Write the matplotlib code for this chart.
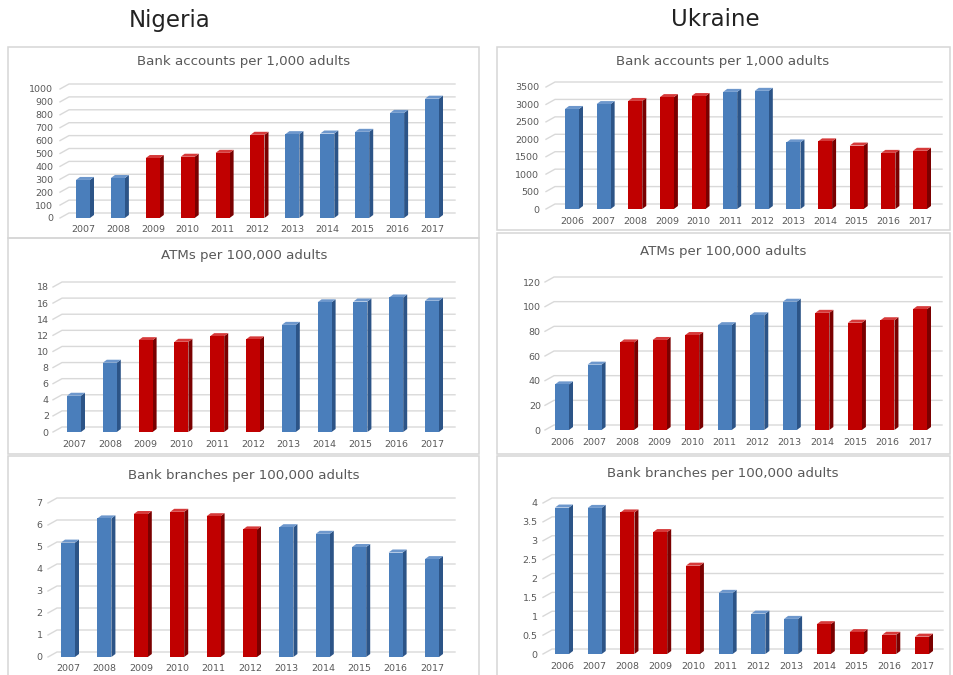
import matplotlib
matplotlib.use("Agg")
import matplotlib.pyplot as plt
from matplotlib.patches import Polygon, Rectangle
from matplotlib.lines import Line2D

plt.rcParams['font.family'] = ['DejaVu Sans']

W, H = 954, 675

# ---- data -----------------------------------------------------------------
years_ng = list(range(2007, 2018))
years_ua = list(range(2006, 2018))

ng_accounts = [295, 310, 465, 475, 505, 645, 650, 655, 668, 815, 925]
ng_atms = [4.5, 8.6, 11.4, 11.2, 11.9, 11.5, 13.3, 16.1, 16.2, 16.7, 16.3]
ng_branches = [5.2, 6.3, 6.5, 6.6, 6.4, 5.8, 5.9, 5.6, 5.0, 4.75, 4.45]

ua_accounts = [2870, 3010, 3100, 3210, 3240, 3360, 3390, 1910, 1940, 1820, 1610, 1670]
ua_atms = [37, 53, 71, 73, 77, 85, 93, 104, 95, 87, 89, 98]
ua_branches = [3.88, 3.87, 3.75, 3.23, 2.34, 1.62, 1.07, 0.93, 0.79, 0.58, 0.51, 0.46]

ng_red_years = [2009, 2010, 2011, 2012]
ua_red_years = [2008, 2009, 2010, 2014, 2015, 2016, 2017]

ng_accounts_ticks = list(range(0, 1001, 100))
ua_accounts_ticks = list(range(0, 3501, 500))
ng_atms_ticks = list(range(0, 19, 2))
ua_atms_ticks = list(range(0, 121, 20))
ng_branches_ticks = list(range(0, 8))
ua_branches_ticks = [0, 0.5, 1, 1.5, 2, 2.5, 3, 3.5, 4]

titles = ["Bank accounts per 1,000 adults",
          "ATMs per 100,000 adults",
          "Bank branches per 100,000 adults"]

# ---- styling ----------------------------------------------------------------
BLUE = dict(front="#4a7ebb", side="#2c5487", top="#6d97cc")
RED = dict(front="#c00000", side="#7a0000", top="#d63a3a")
GRID = "#d9d9d9"
TXT = "#595959"
FRAME = "#d6d6d6"

fig = plt.figure(figsize=(W / 100, H / 100), dpi=100)
fig.patch.set_facecolor("white")


def px_axes(l, r, y0, yt):
    return fig.add_axes([l / W, 1 - y0 / H, (r - l) / W, (y0 - yt) / H])


def frame(x0, x1, y0, y1):
    fig.patches.append(Rectangle((x0 / W, 1 - y1 / H), (x1 - x0) / W, (y1 - y0) / H,
                                 transform=fig.transFigure, fill=False,
                                 edgecolor=FRAME, linewidth=1.1))


def panel(title, title_xy, geom, years, values, red_years, ymax, yticks, ytick_fmt,
          ypad, xpad):
    l, r, c0, c1, y0, yt = geom
    n = len(values)
    s = (c1 - c0) / (n - 1)
    ax = px_axes(l, r, y0, yt)
    ax.set_xlim((l - c0) / s, (n - 1) + (r - c1) / s)
    ax.set_ylim(0, ymax)
    for sp in ax.spines.values():
        sp.set_visible(False)
    ax.set_facecolor("none")

    ux = 1.0 / s                  # data units per pixel (x)
    uy = ymax / (y0 - yt)         # data units per pixel (y)

    # back-wall gridlines with a short receding segment on the left
    gdx, gdy = 9 * ux, 5 * uy
    x_left, x_right = ax.get_xlim()
    for v in yticks:
        ax.add_line(Line2D([x_left, x_left + gdx, x_right], [v, v + gdy, v + gdy],
                           color=GRID, lw=1.0, zorder=1, clip_on=False))

    # 3-D columns: front face, side face and top face
    half = 7 * ux
    ddx, ddy = 4 * ux, 3 * uy
    for i, (yr, v) in enumerate(zip(years, values)):
        c = RED if yr in red_years else BLUE
        xl, xr = i - half, i + half
        ax.add_patch(Polygon([(xr, 0), (xr + ddx, ddy), (xr + ddx, v + ddy), (xr, v)],
                             closed=True, facecolor=c["side"], edgecolor="none", zorder=3))
        ax.add_patch(Polygon([(xl, v), (xr, v), (xr + ddx, v + ddy), (xl + ddx, v + ddy)],
                             closed=True, facecolor=c["top"], edgecolor="none", zorder=3))
        ax.bar(i, v, width=2 * half, bottom=0, color=c["front"], edgecolor="none", zorder=4)

    ax.set_yticks(yticks)
    ax.set_yticklabels([ytick_fmt(t) for t in yticks])
    ax.set_xticks(range(n))
    ax.set_xticklabels([str(y) for y in years])
    ax.tick_params(axis="both", length=0, labelsize=6.8, colors=TXT)
    ax.tick_params(axis="y", pad=ypad)
    ax.tick_params(axis="x", pad=xpad)
    fig.text(title_xy[0] / W, 1 - title_xy[1] / H, title, ha="center", va="center",
             fontsize=9.6, color=TXT)
    return ax


def fmt_int(t):
    return f"{int(t)}"


def fmt_half(t):
    return f"{t:g}"


# panel frames
frame(8, 479, 47, 238)
frame(8, 479, 238, 454)
frame(8, 479, 456, 676)
frame(497, 950, 47, 230)
frame(497, 950, 233, 454)
frame(497, 950, 456, 676)

# country headings
fig.text(170 / W, 1 - 20 / H, "Nigeria", ha="center", va="center", fontsize=16.5, color="#222222")
fig.text(715 / W, 1 - 19 / H, "Ukraine", ha="center", va="center", fontsize=16.5, color="#222222")

# Nigeria
panel(titles[0], (244, 62), (60, 455, 83, 432, 218, 89), years_ng, ng_accounts,
      ng_red_years, 1000, ng_accounts_ticks, fmt_int, 5, 5)
panel(titles[1], (244, 256), (53, 455, 74, 432, 432, 287), years_ng, ng_atms,
      ng_red_years, 18, ng_atms_ticks, fmt_int, 3, 6)
panel(titles[2], (244, 475), (48, 455, 68, 432, 657, 503), years_ng, ng_branches,
      ng_red_years, 7, ng_branches_ticks, fmt_int, 4, 5)

# Ukraine
panel(titles[0], (723, 61), (546, 942, 572, 920, 209, 87), years_ua, ua_accounts,
      ua_red_years, 3500, ua_accounts_ticks, fmt_int, 5, 6)
panel(titles[1], (723, 251), (545, 942, 562, 920, 430, 282), years_ua, ua_atms,
      ua_red_years, 120, ua_atms_ticks, fmt_int, 3, 6)
panel(titles[2], (723, 474), (543, 943, 562, 922, 654, 503), years_ua, ua_branches,
      ua_red_years, 4, ua_branches_ticks, fmt_half, 4, 6)

fig.savefig("out.png", dpi=100, facecolor="white")
